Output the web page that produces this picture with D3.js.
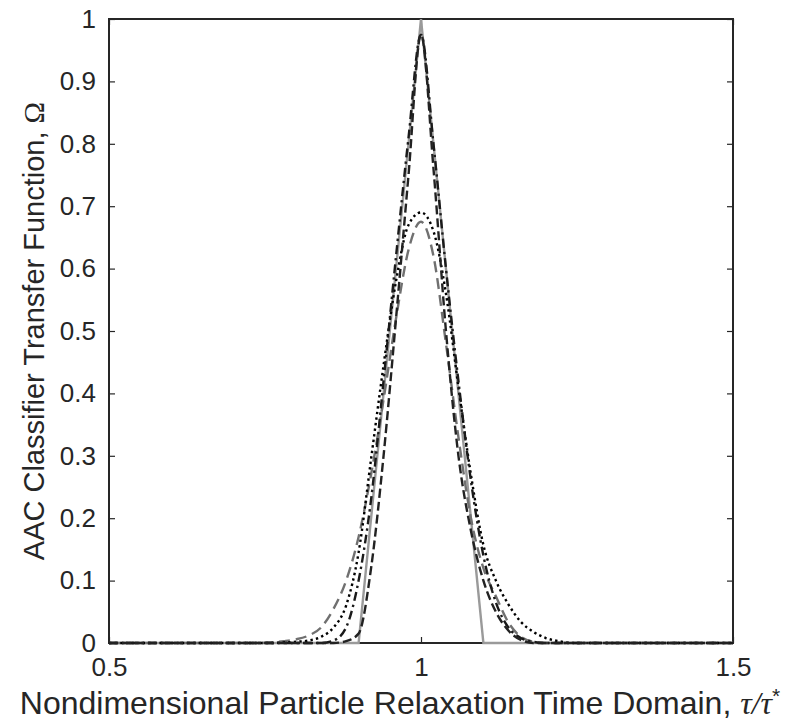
<!DOCTYPE html>
<html><head><meta charset="utf-8">
<script src="https://cdn.jsdelivr.net/npm/d3@7"></script>
<style>body{margin:0;background:#fff;} svg{display:block;}</style>
</head><body>
<svg id="chart" width="785" height="725"></svg>
<script>
const tau = [0.5,0.7,0.74,0.76,0.78,0.8,0.82,0.84,0.86,0.88,0.9,0.92,0.94,0.96,0.98,1.0,1.02,1.04,1.06,1.08,1.1,1.12,1.14,1.16,1.18,1.2,1.22,1.25,1.3,1.5];
const darkDashed = [0,0,0,0,0,0,0,0,0,0.003,0.015,0.12,0.3,0.52,0.75,0.975,0.76,0.5,0.3,0.18,0.1,0.05,0.02,0.005,0,0,0,0,0,0];
const darkDashDot = [0,0,0,0,0,0,0,0,0.004,0.025,0.1,0.23,0.42,0.62,0.81,0.975,0.8,0.6,0.42,0.26,0.14,0.065,0.025,0.008,0.002,0,0,0,0,0];
const dotted = [0,0,0,0,0.001,0.002,0.004,0.01,0.025,0.06,0.145,0.295,0.445,0.58,0.67,0.69,0.66,0.56,0.41,0.27,0.157,0.1,0.062,0.034,0.018,0.008,0.003,0,0,0];
const grayDashed = [0,0,0,0.001,0.003,0.006,0.012,0.025,0.055,0.1,0.17,0.27,0.39,0.52,0.63,0.675,0.62,0.48,0.33,0.2,0.12,0.075,0.033,0.01,0.002,0,0,0,0,0];
const triTau = [0.5,0.9,1.0,1.1,1.5];
const triOmega = [0,0,1,0,0];
const xTicks = [0.5,1,1.5];
const yTicks = [0,0.1,0.2,0.3,0.4,0.5,0.6,0.7,0.8,0.9,1];

(function(){
const svg = d3.select('#chart');
const L=109, R=733, T=19, B=643;
const x = d3.scaleLinear().domain([0.5,1.5]).range([L,R]);
const y = d3.scaleLinear().domain([0,1]).range([B,T]);
const axisColor = '#262626';
const fontTick = "26px 'Liberation Sans', Arial, sans-serif";

svg.append('rect').attr('x',L).attr('y',T).attr('width',R-L).attr('height',B-T)
  .attr('fill','none').attr('stroke',axisColor).attr('stroke-width',2);

const fmt = d => d3.format('')(d);
const gBottom = svg.append('g').attr('transform',`translate(0,${B})`)
  .call(d3.axisBottom(x).tickValues(xTicks).tickSizeInner(-6).tickSizeOuter(0).tickPadding(15).tickFormat(fmt));
const gTop = svg.append('g').attr('transform',`translate(0,${T})`)
  .call(d3.axisTop(x).tickValues(xTicks).tickSizeInner(-6).tickSizeOuter(0).tickFormat(''));
const gLeft = svg.append('g').attr('transform',`translate(${L},0)`)
  .call(d3.axisLeft(y).tickValues(yTicks).tickSizeInner(-6).tickSizeOuter(0).tickPadding(13).tickFormat(fmt));
const gRight = svg.append('g').attr('transform',`translate(${R},0)`)
  .call(d3.axisRight(y).tickValues(yTicks).tickSizeInner(-6).tickSizeOuter(0).tickFormat(''));
[gBottom,gTop,gLeft,gRight].forEach(g=>{
  g.select('.domain').remove();
  g.selectAll('.tick line').attr('stroke',axisColor).attr('stroke-width',1.2);
  g.selectAll('.tick text').attr('fill',axisColor).style('font',fontTick);
});

const line = d3.line().x(d=>x(d[0])).y(d=>y(d[1])).curve(d3.curveMonotoneX);
const lineLin = d3.line().x(d=>x(d[0])).y(d=>y(d[1]));
const zip = (xs,ys)=>xs.map((v,i)=>[v,ys[i]]);

svg.append('path').attr('d',lineLin(zip(triTau,triOmega)))
  .attr('fill','none').attr('stroke','#9a9a9a').attr('stroke-width',2.4);
svg.append('path').attr('d',line(zip(tau,grayDashed)))
  .attr('fill','none').attr('stroke','#707070').attr('stroke-width',2.4).attr('stroke-dasharray','11,6');
svg.append('path').attr('d',line(zip(tau,dotted)))
  .attr('fill','none').attr('stroke','#000').attr('stroke-width',2.4).attr('stroke-dasharray','2.4,3.2');
svg.append('path').attr('d',line(zip(tau,darkDashDot)))
  .attr('fill','none').attr('stroke','#1a1a1a').attr('stroke-width',2.4).attr('stroke-dasharray','9,4,2.4,4');
svg.append('path').attr('d',line(zip(tau,darkDashed)))
  .attr('fill','none').attr('stroke','#222').attr('stroke-width',2.4).attr('stroke-dasharray','9,4');

const xt = svg.append('text').attr('x',400).attr('y',714).attr('text-anchor','middle')
  .attr('fill',axisColor).style('font',"32px 'Liberation Sans', Arial, sans-serif");
xt.append('tspan').text('Nondimensional Particle Relaxation Time Domain, ');
xt.append('tspan').style('font-family',"'Liberation Serif','Times New Roman',serif").style('font-style','italic').text('τ/τ');
xt.append('tspan').attr('dy',-11).style('font-size','21px').text('*');

const yt = svg.append('text').attr('transform',`translate(44,${(T+B)/2}) rotate(-90)`).attr('text-anchor','middle')
  .attr('fill',axisColor).style('font',"29px 'Liberation Sans', Arial, sans-serif");
yt.append('tspan').text('AAC Classifier Transfer Function, ');
yt.append('tspan').style('font-family',"'Liberation Serif','Times New Roman',serif").text('Ω');
})();
</script>
</body></html>
